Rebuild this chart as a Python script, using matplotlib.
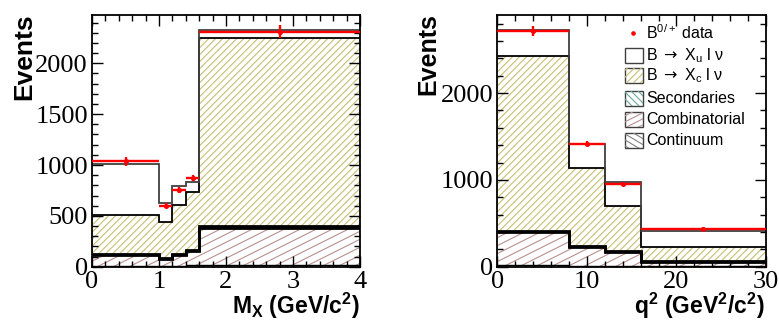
import numpy as np
import matplotlib
matplotlib.use('Agg')
import matplotlib.pyplot as plt
from matplotlib.ticker import MultipleLocator
from matplotlib.collections import LineCollection
from matplotlib.patches import Polygon

# ---------------- data ----------------
mx_edges = [0.0, 1.0, 1.2, 1.4, 1.6, 4.0]
mx_data = [1035, 599, 750, 871, 2311]
mx_err = [40, 25, 30, 30, 65]
mx_cont = [3, 3, 3, 18, 18]
mx_comb = [115, 74, 115, 132, 358]
mx_sec = [10, 8, 10, 10, 20]
mx_xc = [383, 354, 481, 570, 1856]
mx_xu = [498, 187, 187, 98, 76]

q2_edges = [0.0, 8.0, 12.0, 16.0, 30.0]
q2_data = [2719, 1415, 954, 438]
q2_err = [58, 30, 25, 15]
q2_cont = [20, 12, 5, 3]
q2_comb = [380, 214, 166, 55]
q2_sec = [15, 8, 5, 3]
q2_xc = [2016, 901, 524, 162]
q2_xu = [292, 280, 277, 184]

legend_labels = [r"B$^{\mathrm{0/+}}$ data",
                 r"B $\mathsf{\rightarrow}$ X$_{\mathrm{u}}$ l $\mathrm{\nu}$",
                 r"B $\mathsf{\rightarrow}$ X$_{\mathrm{c}}$ l $\mathrm{\nu}$",
                 "Secondaries", "Combinatorial", "Continuum"]

# ---------------- style ----------------
plt.rcParams['font.family'] = ['Liberation Serif', 'DejaVu Serif']
plt.rcParams['mathtext.fontset'] = 'custom'
plt.rcParams['mathtext.rm'] = 'Liberation Sans'
plt.rcParams['mathtext.it'] = 'Liberation Sans:italic'
plt.rcParams['mathtext.bf'] = 'Liberation Sans:bold'
plt.rcParams['mathtext.sf'] = 'DejaVu Sans'
SANS = ['Liberation Sans', 'DejaVu Sans']

C_XC = '#c8be70'
C_COMB = '#b89090'
C_SEC = '#6aa89c'
C_CONT = '#808080'

W, H = 779, 327
fig = plt.figure(figsize=(W / 100, H / 100), dpi=100)


def px_axes(x0, x1, ytop, ybot):
    return fig.add_axes([x0 / W, (H - ybot) / H, (x1 - x0) / W, (ybot - ytop) / H])


def line_hatch(ax, clip, color, slope, spacing, lw=0.8, zorder=1.5):
    pos = ax.get_position()
    w, h = pos.width * W, pos.height * H
    k = slope * w / h
    lo = min(0.0, -k) - 0.05
    hi = max(1.0, 1.0 - k) + 0.05
    segs = [[(0.0, b), (1.0, b + k)] for b in np.arange(lo, hi, spacing / h)]
    lc = LineCollection(segs, colors=color, linewidths=lw, transform=ax.transAxes,
                        zorder=zorder)
    ax.add_collection(lc, autolim=False)
    lc.set_clip_path(clip)


def draw_panel(ax, edges, data, err, cont, comb, sec, xc, xu):
    edges = np.asarray(edges)
    layers = [cont, comb, sec, xc, xu]
    cums = np.cumsum(np.array(layers, dtype=float), axis=0)
    hatch_specs = [(C_CONT, -0.6, 5), (C_COMB, 0.5, 8), (C_SEC, -1.0, 6),
                   (C_XC, 1.0, 7), None]
    base = np.zeros(len(edges) - 1)
    for top, spec in zip(cums, hatch_specs):
        patch = ax.stairs(top, edges, baseline=base, fill=True, facecolor='white',
                          edgecolor='none', linewidth=0, zorder=1)
        if spec is not None:
            line_hatch(ax, patch, spec[0], spec[1], spec[2])
        base = top
    # outlines
    ax.stairs(cums[0], edges, baseline=None, color='black', lw=1.0, zorder=2)
    ax.stairs(cums[1], edges, baseline=None, color='black', lw=2.0, zorder=2)
    ax.stairs(cums[2], edges, baseline=None, color='black', lw=2.0, zorder=2)
    ax.stairs(cums[3], edges, baseline=None, color='black', lw=1.3, zorder=2)
    ax.stairs(cums[4], edges, baseline=None, color='#404040', lw=1.3, zorder=2)
    # data
    centers = 0.5 * (edges[1:] + edges[:-1])
    half = 0.5 * (edges[1:] - edges[:-1])
    ax.errorbar(centers, data, xerr=half, yerr=err, fmt='o', ms=2.6, color='red',
                ecolor='red', elinewidth=1.7, capsize=0, zorder=3)


def style_axes(ax, xlim, ylim, xmaj, xmin, ymaj, ymin):
    ax.set_xlim(*xlim)
    ax.set_ylim(*ylim)
    ax.xaxis.set_major_locator(MultipleLocator(xmaj))
    ax.xaxis.set_minor_locator(MultipleLocator(xmin))
    ax.yaxis.set_major_locator(MultipleLocator(ymaj))
    ax.yaxis.set_minor_locator(MultipleLocator(ymin))
    ax.tick_params(which='both', direction='in', top=True, right=True, width=1.0,
                   labelsize=19)
    ax.tick_params(which='major', length=8)
    ax.tick_params(which='minor', length=4)
    ax.tick_params(axis='x', which='major', pad=3)
    ax.tick_params(axis='y', which='major', pad=3)
    for s in ax.spines.values():
        s.set_linewidth(1.3)


# ---------------- left panel ----------------
ax1 = px_axes(92, 360, 15, 266.7)
draw_panel(ax1, mx_edges, mx_data, mx_err, mx_cont, mx_comb, mx_sec, mx_xc, mx_xu)
style_axes(ax1, (0, 4), (0, 2475), 1, 0.2, 500, 100)

# ---------------- right panel ----------------
ax2 = px_axes(497.3, 766, 15, 266.7)
draw_panel(ax2, q2_edges, q2_data, q2_err, q2_cont, q2_comb, q2_sec, q2_xc, q2_xu)
style_axes(ax2, (0, 30), (0, 2900), 10, 2, 1000, 200)

# ---------------- axis titles ----------------
fig.text(24 / W, 1 - 13 / H, "Events", rotation=90, ha='center', va='top',
         fontsize=19, fontweight='bold', family=SANS)
fig.text(428 / W, 1 - 13 / H, "Events", rotation=90, ha='center', va='top',
         fontsize=18, fontweight='bold', family=SANS)
fig.text(360 / W, 1 - 314 / H, r"M$_{\mathbf{X}}$ (GeV/c$^{\mathbf{2}}$)",
         ha='right', va='baseline', fontsize=16.5, fontweight='bold', family=SANS)
fig.text(765 / W, 1 - 314 / H,
         r"q$^{\mathbf{2}}$ (GeV$^{\mathbf{2}}$/c$^{\mathbf{2}}$)",
         ha='right', va='baseline', fontsize=16.5, fontweight='bold', family=SANS)

# ---------------- legend (right panel) ----------------
def fx(px):
    return (px - 497.3) / (766 - 497.3)


def fy(py):
    return (266.7 - py) / (266.7 - 15)


box_x0, box_x1 = 625, 643
text_x = 646
rows_y = [33, 55.5, 75.5, 98.5, 119.5, 140.5]
box_h = 15
leg_hatch = [None, None, (C_XC, 1.0, 7), (C_SEC, -1.0, 7), (C_COMB, 0.5, 6),
             (C_CONT, -0.6, 6)]

ax2.plot([fx(633)], [fy(rows_y[0])], 'o', ms=2.3, color='red',
         transform=ax2.transAxes, clip_on=False, zorder=5)
for i, (lab, yc) in enumerate(zip(legend_labels, rows_y)):
    if i > 0:
        x0, x1 = fx(box_x0), fx(box_x1)
        y0, y1 = fy(yc + box_h / 2), fy(yc - box_h / 2)
        rect = Polygon([(x0, y0), (x1, y0), (x1, y1), (x0, y1)], closed=True,
                       transform=ax2.transAxes, facecolor='white',
                       edgecolor='#404040', lw=1.0, zorder=5)
        ax2.add_patch(rect)
        spec = leg_hatch[i]
        if spec is not None:
            line_hatch(ax2, rect, spec[0], spec[1], spec[2], zorder=5.5)
    ax2.text(fx(text_x), fy(yc), lab, transform=ax2.transAxes, ha='left',
             va='center', fontsize=11.5, family=SANS, zorder=6)

fig.savefig('out.png', dpi=100)
